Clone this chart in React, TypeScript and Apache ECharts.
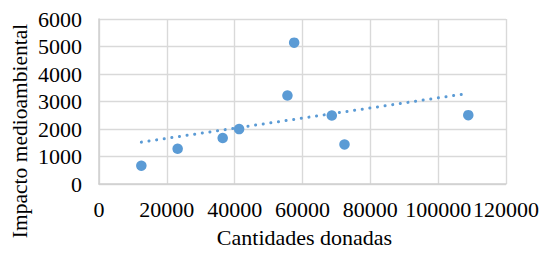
import React, { useEffect, useRef } from "react";
import * as echarts from "echarts";

const donations = [12480, 23190, 36470, 41310, 55560, 57540, 68640, 72380, 108880];
const impact = [664, 1281, 1670, 1996, 3216, 5140, 2490, 1437, 2504];
const xTicks = [0, 20000, 40000, 60000, 80000, 100000, 120000];
const yTicks = [0, 1000, 2000, 3000, 4000, 5000, 6000];
const xTitle = "Cantidades donadas";
const yTitle = "Impacto medioambiental";

function linearFit(xs: number[], ys: number[]) {
  const n = xs.length;
  const mx = xs.reduce((a, b) => a + b, 0) / n;
  const my = ys.reduce((a, b) => a + b, 0) / n;
  let sxy = 0;
  let sxx = 0;
  for (let i = 0; i < n; i++) {
    sxy += (xs[i] - mx) * (ys[i] - my);
    sxx += (xs[i] - mx) * (xs[i] - mx);
  }
  const slope = sxy / sxx;
  return { slope, intercept: my - slope * mx };
}

export default function App() {
  const ref = useRef<HTMLDivElement>(null);
  useEffect(() => {
    if (!ref.current) return;
    const chart = echarts.init(ref.current, null, { renderer: "svg" });
    const fit = linearFit(donations, impact);
    const xmin = Math.min(...donations);
    const xmax = Math.max(...donations);
    const trend = [
      [xmin, fit.intercept + fit.slope * xmin],
      [xmax, fit.intercept + fit.slope * xmax],
    ];
    const font = "'Liberation Serif', 'Times New Roman', serif";
    const color = "#5B9BD5";
    const fmt = (v: number) => String(v);
    chart.setOption({
      animation: false,
      textStyle: { fontFamily: font },
      grid: {
        left: 99,
        right: 34,
        top: 19,
        bottom: 69,
        containLabel: false,
        outerBoundsMode: "none",
      },
      graphic: [
        {
          type: "text",
          x: 304.5,
          y: 237.5,
          style: {
            text: xTitle,
            font: `22px ${font}`,
            fill: "#000",
            textAlign: "center",
            textVerticalAlign: "middle",
          },
        },
        {
          type: "text",
          x: 19.5,
          y: 131,
          rotation: Math.PI / 2,
          style: {
            text: yTitle,
            font: `21.5px ${font}`,
            fill: "#000",
            textAlign: "center",
            textVerticalAlign: "middle",
          },
        },
      ],
      xAxis: {
        type: "value",
        min: xTicks[0],
        max: xTicks[xTicks.length - 1],
        interval: xTicks[1] - xTicks[0],
        axisLine: { show: true, lineStyle: { color: "#D0D0D0", width: 1.5 } },
        axisTick: { show: false },
        axisLabel: {
          fontFamily: font,
          fontSize: 22,
          color: "#000",
          margin: 14,
          formatter: fmt,
          hideOverlap: false,
        },
        splitLine: { show: true, lineStyle: { color: "#D9D9D9", width: 1.4 } },
      },
      yAxis: {
        type: "value",
        min: yTicks[0],
        max: yTicks[yTicks.length - 1],
        interval: yTicks[1] - yTicks[0],
        axisLine: { show: true, lineStyle: { color: "#D0D0D0", width: 1.5 } },
        axisTick: { show: false },
        axisLabel: { fontFamily: font, fontSize: 22, color: "#000", margin: 17, formatter: fmt },
        splitLine: { show: true, lineStyle: { color: "#D9D9D9", width: 1.4 } },
      },
      series: [
        {
          type: "line",
          data: trend,
          showSymbol: false,
          symbol: "none",
          lineStyle: { color, width: 3, type: [0.1, 7.6], cap: "round" },
          silent: true,
          z: 2,
        },
        {
          type: "scatter",
          data: donations.map((x, i) => [x, impact[i]]),
          symbolSize: 10.5,
          itemStyle: { color, opacity: 1 },
          z: 3,
        },
      ],
    });
    return () => chart.dispose();
  }, []);
  return (
    <div
      ref={ref}
      style={{ position: "absolute", left: 0, top: 0, width: 540, height: 253 }}
    />
  );
}
